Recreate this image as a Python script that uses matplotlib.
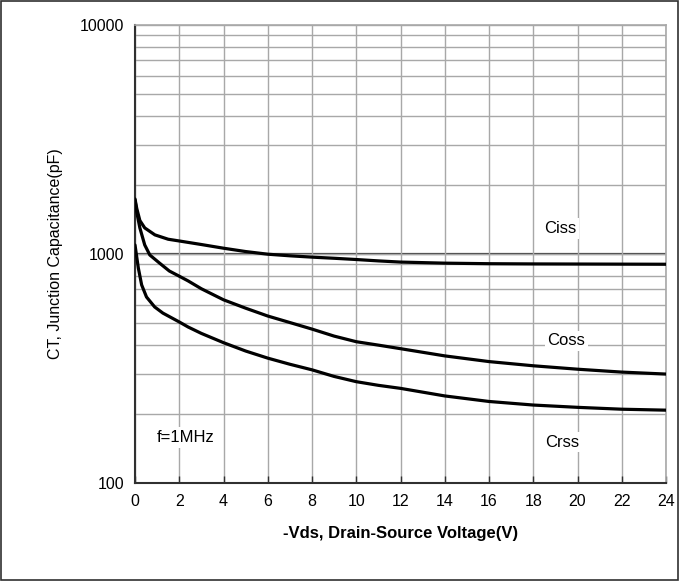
import numpy as np
import matplotlib.pyplot as plt

plt.rcParams['font.family'] = ['Liberation Sans', 'DejaVu Sans']

# values (pF vs -Vds)
vds_ciss = [0, 0.08, 0.22, 0.44, 0.9, 1.5, 2, 3, 4, 5, 6, 7, 8, 9, 10,
            11, 12, 14, 16, 18, 20, 22, 24]
ciss = [1740, 1580, 1400, 1300, 1212, 1160, 1140, 1100, 1060, 1025, 998,
        982, 969, 958, 946, 933, 922, 912, 907, 905, 904, 903, 902]

vds_coss = [0, 0.08, 0.22, 0.44, 0.67, 1.1, 1.55, 2, 2.4, 3, 4, 5, 6, 7, 8, 9, 10,
            11, 12, 14, 16, 18, 20, 22, 24]
coss = [1720, 1520, 1300, 1095, 990, 914, 843, 800, 763, 705, 631, 580, 536,
        502, 470, 438, 414, 400, 386, 359, 339, 325, 314, 305, 299]

vds_crss = [0, 0.15, 0.3, 0.52, 0.89, 1.26, 2, 2.4, 3, 4, 5, 6, 7, 8, 9, 10,
            11, 12, 14, 16, 18, 20, 22, 24]
crss = [1095, 869, 733, 649, 587, 552, 505, 480, 450, 410, 377, 351, 330, 312,
        292, 277, 267, 259, 240, 227, 219, 214, 210, 208]

xticks = list(range(0, 26, 2))
yticks = [100, 1000, 10000]

fig = plt.figure(figsize=(6.79, 5.81), dpi=100)
ax = fig.add_axes([135 / 679, 1 - 483 / 581, 531 / 679, 458 / 581])

ax.set_yscale('log')
ax.set_xlim(0, 24)
ax.set_ylim(100, 10000)

# grid
ax.set_xticks(xticks)
ax.set_yticks(yticks)
ax.set_yticks([m * d for d in (100, 1000) for m in range(2, 10)], minor=True)
ax.grid(True, which='both', color='#a8a8a8', lw=1.0, zorder=0)
ax.axhline(1000, color='#404040', lw=1.6, zorder=1)
ax.set_yticklabels([str(t) for t in yticks])

for s in ['top', 'right']:
    ax.spines[s].set_color('#a8a8a8')
    ax.spines[s].set_linewidth(1.2)
for s in ['left', 'bottom']:
    ax.spines[s].set_color('#303030')
    ax.spines[s].set_linewidth(1.5)

ax.tick_params(axis='x', direction='in', length=5, width=1, color='#303030',
               labelsize=11.5, pad=8)
ax.tick_params(axis='y', which='both', length=0, labelsize=11.5, pad=8)

for xs, ys in [(vds_ciss, ciss), (vds_coss, coss), (vds_crss, crss)]:
    ax.plot(xs, ys, color='black', lw=2.3, zorder=3,
            solid_capstyle='round', solid_joinstyle='round')

box = dict(facecolor='white', edgecolor='none', pad=2)
ax.text(19.2, 1290, 'Ciss', fontsize=12, ha='center', va='center', bbox=box, zorder=4)
ax.text(19.5, 417, 'Coss', fontsize=12, ha='center', va='center', bbox=box, zorder=4)
ax.text(19.3, 151, 'Crss', fontsize=12, ha='center', va='center', bbox=box, zorder=4)
ax.text(2.3, 158, 'f=1MHz', fontsize=12, ha='center', va='center', bbox=box, zorder=4)

ax.set_xlabel('-Vds, Drain-Source Voltage(V)', fontsize=12, fontweight='bold', labelpad=12)
ax.set_ylabel('CT, Junction Capacitance(pF)', fontsize=11.5, labelpad=12)

# frame around the whole picture
fig.add_artist(plt.Rectangle((0.001, 0.001), 0.997, 0.997, transform=fig.transFigure,
                             fill=False, edgecolor='#303030', lw=1.2))

fig.savefig('out.png', dpi=100)
